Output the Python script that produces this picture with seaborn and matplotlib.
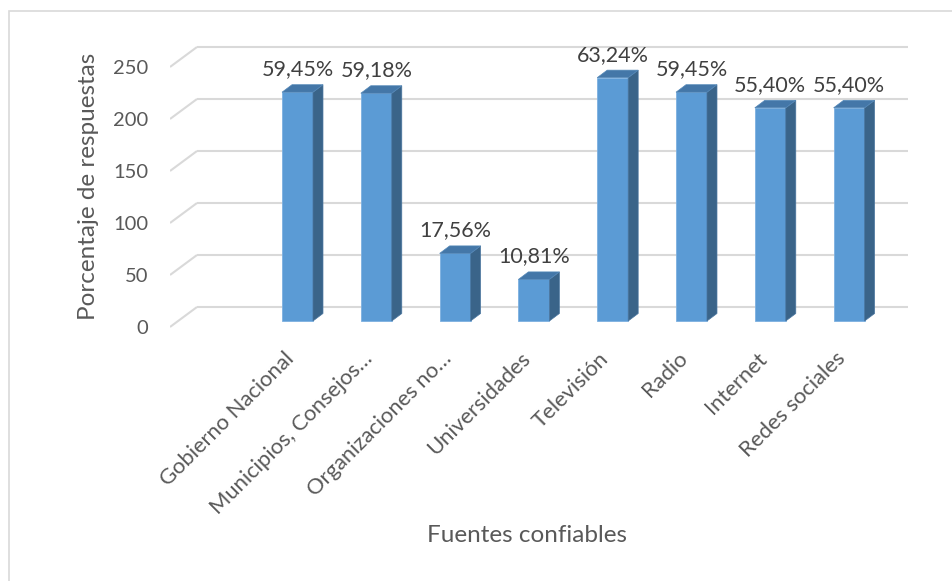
import numpy as np
import pandas as pd
import matplotlib
matplotlib.use("Agg")
import matplotlib.pyplot as plt
import matplotlib.transforms as mtransforms
from matplotlib.patches import Polygon, Rectangle
import seaborn as sns

# ---- data ----
categories = ["Gobierno Nacional", "Municipios, Consejos…", "Organizaciones no…",
              "Universidades", "Televisión", "Radio", "Internet", "Redes sociales"]
counts = [220, 219, 65, 40, 234, 220, 205, 205]
percent_labels = ["59,45%", "59,18%", "17,56%", "10,81%", "63,24%", "59,45%", "55,40%", "55,40%"]
yticks = [0, 50, 100, 150, 200, 250]
ylabel = "Porcentaje de respuestas"
xlabel = "Fuentes confiables"

sns.set_style("white")
plt.rcParams["font.family"] = ["Lato", "DejaVu Sans"]

W, H = 953, 581
DPI = 100
fig = plt.figure(figsize=(W / DPI, H / DPI), dpi=DPI)

# geometry (pixels)
px_left, px_right, px_top, px_bottom = 170, 920, 30, 340
x0_px = 297.5      # centre of first bar front
x_unit = 78.8      # px per category
y_unit = 1.04      # px per value unit
y0_px = 327        # front plane zero

ax = fig.add_axes([px_left / W, 1 - px_bottom / H, (px_right - px_left) / W, (px_bottom - px_top) / H])

df = pd.DataFrame({"cat": categories, "n": counts})
sns.barplot(data=df, x="cat", y="n", color="#5B9BD5", saturation=1, width=0.393,
            ax=ax, zorder=3, edgecolor="#7DB0E0", linewidth=0.6)
ax.set_xlim((px_left - x0_px) / x_unit, (px_right - x0_px) / x_unit)
ax.set_ylim((y0_px - px_bottom) / y_unit, (y0_px - px_top) / y_unit)

# back wall / gridlines
back_dx = 27 / x_unit
back_dy = 20 / y_unit
xl = (px_left - x0_px) / x_unit
xr = (908 - x0_px) / x_unit
grid_c = "#D9D9D9"
for v in yticks:
    ax.plot([xl, xl + back_dx], [v, v + back_dy], color=grid_c, lw=1.5, zorder=1, solid_capstyle="butt")
    ax.plot([xl + back_dx, xr], [v + back_dy, v + back_dy], color=grid_c, lw=1.5, zorder=1, solid_capstyle="butt")

# bars: lift front faces a bit and add 3D side/top faces
lift = mtransforms.offset_copy(ax.transData, fig=fig, x=0, y=6, units="dots")
ddx = 10 / x_unit
ddy = 7.5 / y_unit
for p, lab in zip(ax.patches, percent_labels):
    p.set_transform(lift)
    x0 = p.get_x()
    x1 = x0 + p.get_width()
    y0 = p.get_y()
    y1 = y0 + p.get_height()
    side = Polygon([(x1, y0), (x1 + ddx, y0 + ddy), (x1 + ddx, y1 + ddy), (x1, y1)],
                   closed=True, facecolor="#3A6489", edgecolor="#4A76A0", lw=0.5,
                   transform=lift, zorder=3)
    top = Polygon([(x0, y1), (x0 + ddx, y1 + ddy), (x1 + ddx, y1 + ddy), (x1, y1)],
                  closed=True, facecolor="#4477A8", edgecolor="#5488B8", lw=0.5,
                  transform=lift, zorder=3)
    ax.add_patch(side)
    ax.add_patch(top)
    ax.annotate(lab, xy=((x0 + x1) / 2, y1), xycoords="data",
                xytext=(0, 23), textcoords="offset pixels",
                ha="center", va="baseline", fontsize=15.5, color="#404040")

for s in ax.spines.values():
    s.set_visible(False)

ax.set_yticks(yticks)
ax.set_yticklabels([str(t) for t in yticks])
ax.tick_params(axis="y", length=0, pad=15.8, labelsize=14.5, labelcolor="#595959")
ax.tick_params(axis="x", length=0, pad=6, labelsize=15.8, labelcolor="#595959")
ax.set_xticks(range(len(categories)))
ax.set_xticklabels(categories, rotation=45, ha="right", rotation_mode="anchor")
shift = mtransforms.ScaledTranslation(-14 / DPI, 0, fig.dpi_scale_trans)
for t in ax.get_xticklabels():
    t.set_transform(t.get_transform() + shift)

ax.set_xlabel("")
ax.set_ylabel("")
fig.text(89 / W, 1 - 186 / H, ylabel, rotation=90, ha="center", va="center",
         fontsize=17.5, color="#595959")
fig.text(527 / W, 1 - 535 / H, xlabel, ha="center", va="center",
         fontsize=17.5, color="#595959")

# chart border
fig.patches.append(Rectangle((9 / W, -0.1), 1.2, 1 - 11 / H + 0.1, transform=fig.transFigure,
                             fill=False, edgecolor="#D9D9D9", lw=1.2))

fig.savefig("out.png", dpi=DPI)
